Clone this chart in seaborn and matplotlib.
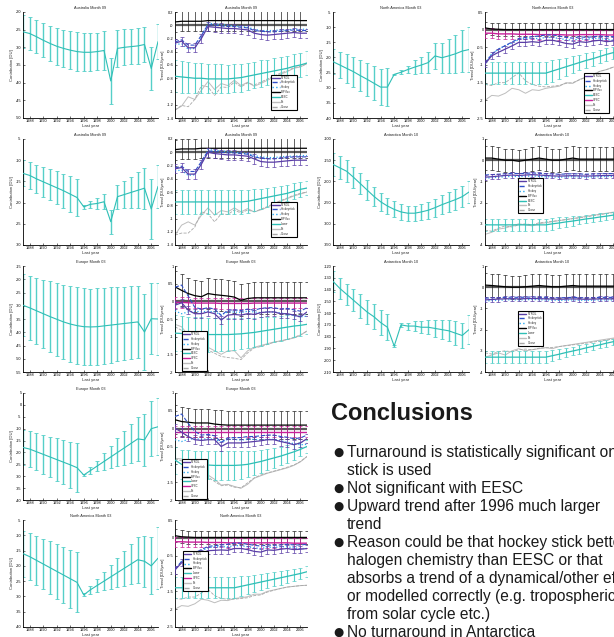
import matplotlib
matplotlib.use("Agg")
import matplotlib.pyplot as plt
from matplotlib.lines import Line2D
from matplotlib.ticker import FuncFormatter
import numpy as np
import pandas as pd
import seaborn as sns

YEARS = list(range(1987, 2008))
XTICKS = list(range(1988, 2007, 2))

# ---------------- contribution panels ----------------
AUS_H_C = [-25.6, -26.1, -27.0, -28.0, -28.9, -29.7, -30.3, -30.8, -31.2, -31.4, -31.4,
           -31.2, -30.9, -39.5, -30.3, -30.0, -29.8, -29.6, -29.2, -36.0, -28.4]
AUS_H_CE = [4.7, 4.6, 4.7, 4.8, 5.0, 5.2, 5.3, 5.4, 5.4, 5.4, 5.4, 5.3, 5.4, 6.4, 5.2,
            5.1, 5.0, 5.0, 5.0, 6.0, 5.0]
AUS_E_C = [-13.1, -13.6, -14.4, -15.1, -15.8, -16.5, -17.2, -18.0, -18.8, -21.0, -20.4,
           -20.2, -19.8, -24.5, -18.6, -18.1, -17.6, -17.1, -16.6, -21.5, -16.2]
AUS_E_CE = [3.1, 3.1, 3.3, 3.6, 3.7, 3.9, 4.0, 4.2, 4.4, 0.4, 0.8, 1.3, 1.8, 2.8, 2.8,
            3.2, 3.7, 4.2, 4.8, 7.0, 5.0]
EUR_H_C = [-29.8, -30.8, -31.9, -33.0, -34.1, -35.1, -36.1, -36.9, -37.5, -37.9, -38.0,
           -37.9, -37.6, -37.3, -37.0, -36.7, -36.4, -36.1, -39.9, -34.9, -35.0]
EUR_H_CE = [11.6, 12.0, 12.5, 12.9, 13.4, 13.8, 14.1, 14.3, 14.5, 14.5, 14.5, 14.5, 14.4,
            14.2, 14.0, 13.9, 13.8, 13.7, 14.2, 13.4, 13.5]
EUR_E_C = [-17.9, -18.6, -19.7, -20.8, -21.9, -23.0, -24.1, -25.2, -26.4, -29.5, -27.6,
           -25.7, -23.8, -21.9, -20.0, -18.1, -16.2, -14.3, -14.7, -10.0, -9.2]
EUR_E_CE = [7.2, 7.5, 7.8, 8.1, 8.5, 8.9, 9.3, 9.8, 10.2, 0.5, 1.4, 2.3, 3.5, 4.6, 5.9,
            7.0, 8.2, 9.4, 10.8, 11.6, 12.0]
NA_E_C = [-16.0, -17.0, -18.2, -19.4, -20.6, -21.8, -23.0, -24.2, -25.4, -29.5, -27.8,
          -26.4, -25.0, -23.6, -22.2, -20.8, -19.4, -18.0, -18.5, -20.0, -17.5]
NA_E_CE = [7.5, 7.7, 8.0, 8.3, 8.6, 8.9, 9.2, 9.5, 9.8, 0.5, 1.3, 2.1, 3.0, 3.9, 4.8,
           5.7, 6.6, 7.5, 8.4, 9.3, 10.2]
NA_H_C = [-21.4, -22.5, -23.6, -24.7, -26.0, -27.2, -28.5, -29.8, -29.8, -25.6, -24.9,
          -24.0, -23.2, -22.5, -21.7, -19.5, -20.1, -19.5, -18.8, -17.9, -17.4]
NA_H_CE = [4.2, 4.4, 4.7, 4.9, 5.2, 5.5, 5.7, 5.9, 6.2, 0.2, 0.7, 1.3, 2.2, 2.8, 3.6,
           4.4, 4.9, 5.6, 6.3, 7.0, 7.5]
ANT_H_C = [-160, -168, -176, -190, -205, -220, -235, -248, -258, -266, -272, -275, -275,
           -272, -268, -262, -255, -249, -243, -236, -225]
ANT_H_CE = [28, 27, 26, 25, 24, 23, 22, 21, 20, 19, 18, 18, 18, 19, 20, 21, 22, 23, 24,
            25, 26]
ANT_E_C = [-133, -139, -144, -149, -154, -159, -163, -168, -172, -188, -170, -171, -171,
           -172, -172, -173, -174, -175, -177, -179, -174]
ANT_E_CE = [9, 9, 9, 9.5, 10, 10, 10.5, 11, 11, 1, 2, 3, 4, 5, 6, 7, 8, 9, 10, 11, 12]

# ---------------- trend panels ----------------
LEG_LABELS = ["NTROL", "Hockeystick", "Hockey", "BP flux", "EESC", "VPSC", "Fit", "Ozone"]

# Australia 09, hockey stick
AUS_H_NTROL = [-0.27, -0.24, -0.34, -0.34, -0.20, -0.02, -0.03, -0.04, -0.05, -0.05, -0.06,
               -0.07, -0.12, -0.14, -0.15, -0.14, -0.13, -0.12, -0.11, -0.12, -0.12]
AUS_H_HSTICK = [-0.25, -0.22, -0.30, -0.30, -0.15, 0.01, 0.0, -0.01, -0.02, -0.02, -0.03,
                -0.04, -0.08, -0.09, -0.10, -0.10, -0.09, -0.08, -0.07, -0.08, -0.08]
AUS_H_HOCKEY = [-0.29, -0.28, -0.36, -0.35, -0.18, 0.03, 0.02, 0.01, 0.0, -0.01, -0.02,
                -0.03, -0.06, -0.08, -0.08, -0.08, -0.07, -0.07, -0.06, -0.06, -0.06]
AUS_H_BP = [0.05, 0.06, 0.06, 0.06, 0.06, 0.07, 0.07, 0.07, 0.07, 0.07, 0.07, 0.07, 0.07,
            0.07, 0.07, 0.07, 0.07, 0.07, 0.07, 0.07, 0.07]
AUS_H_TEAL = [-0.77, -0.78, -0.79, -0.80, -0.80, -0.81, -0.81, -0.81, -0.81, -0.80, -0.79,
              -0.77, -0.75, -0.73, -0.71, -0.69, -0.67, -0.65, -0.62, -0.60, -0.57]
AUS_H_TEAL_E = [0.24, 0.24, 0.23, 0.23, 0.23, 0.22, 0.22, 0.22, 0.21, 0.21, 0.21, 0.2,
                0.2, 0.2, 0.19, 0.19, 0.19, 0.18, 0.18, 0.18, 0.18]
AUS_H_FIT = [-1.28, -1.22, -1.08, -1.12, -0.98, -0.85, -0.97, -0.88, -0.91, -0.83, -0.91,
             -0.86, -0.92, -0.88, -0.83, -0.78, -0.74, -0.70, -0.65, -0.63, -0.58]
AUS_H_OZONE = [-1.28, -1.21, -1.23, -1.12, -0.91, -0.93, -1.06, -0.93, -0.94, -0.86, -0.93,
               -0.87, -0.90, -0.86, -0.81, -0.77, -0.72, -0.69, -0.64, -0.62, -0.58]

# Australia 09, EESC
AUS_E_NTROL = [-0.25, -0.23, -0.33, -0.33, -0.18, 0.0, -0.02, -0.03, -0.04, -0.04, -0.05,
               -0.06, -0.10, -0.14, -0.15, -0.15, -0.14, -0.13, -0.12, -0.12, -0.12]
AUS_E_HSTICK = [-0.24, -0.21, -0.29, -0.29, -0.14, 0.02, 0.01, 0.0, -0.01, -0.01, -0.02,
                -0.03, -0.07, -0.09, -0.10, -0.10, -0.09, -0.08, -0.07, -0.07, -0.07]
AUS_E_HOCKEY = [-0.28, -0.27, -0.35, -0.34, -0.17, 0.04, 0.03, 0.02, 0.01, 0.0, -0.01,
                -0.02, -0.05, -0.07, -0.08, -0.08, -0.07, -0.06, -0.06, -0.05, -0.05]
AUS_E_BP = [0.04, 0.05, 0.05, 0.05, 0.06, 0.06, 0.06, 0.06, 0.06, 0.06, 0.06, 0.06, 0.06,
            0.06, 0.06, 0.06, 0.06, 0.06, 0.06, 0.06, 0.06]
AUS_E_TEAL = [-0.75, -0.75, -0.75, -0.75, -0.75, -0.75, -0.75, -0.75, -0.75, -0.75, -0.75,
              -0.74, -0.72, -0.70, -0.68, -0.66, -0.64, -0.62, -0.59, -0.56, -0.54]
AUS_E_TEAL_E = [0.18, 0.18, 0.18, 0.18, 0.18, 0.18, 0.18, 0.18, 0.18, 0.18, 0.18, 0.17,
                0.16, 0.15, 0.14, 0.13, 0.13, 0.12, 0.12, 0.11, 0.11]
AUS_E_FIT = [-1.25, -1.10, -1.05, -1.10, -0.95, -0.84, -0.95, -0.88, -0.90, -0.84, -0.90,
             -0.85, -0.90, -0.87, -0.83, -0.78, -0.74, -0.70, -0.66, -0.63, -0.60]
AUS_E_OZONE = [-1.25, -1.22, -1.22, -1.13, -0.90, -0.93, -1.05, -0.93, -0.94, -0.87, -0.92,
               -0.87, -0.90, -0.86, -0.82, -0.77, -0.73, -0.69, -0.65, -0.62, -0.60]

# Europe 03, hockey stick
EUR_H_NTROL = [-0.11, -0.04, -0.25, -0.35, -0.35, -0.30, -0.35, -0.53, -0.39, -0.37, -0.39,
               -0.35, -0.37, -0.32, -0.30, -0.30, -0.35, -0.35, -0.39, -0.44, -0.30]
EUR_H_HSTICK = [0.40, 0.46, 0.15, -0.17, -0.22, -0.18, -0.22, -0.40, -0.25, -0.24, -0.26,
                -0.22, -0.25, -0.20, -0.18, -0.18, -0.22, -0.20, -0.24, -0.28, -0.18]
EUR_H_HOCKEY = [-0.27, -0.35, -0.30, -0.28, -0.30, -0.28, -0.30, -0.38, -0.30, -0.30, -0.32,
                -0.28, -0.30, -0.32, -0.30, -0.30, -0.33, -0.36, -0.40, -0.44, -0.42]
EUR_H_BP = [0.41, 0.31, 0.22, 0.16, 0.13, 0.22, 0.19, 0.17, 0.15, 0.12, 0.03, 0.08, 0.10,
            0.10, 0.10, 0.10, 0.10, 0.10, 0.10, 0.10, 0.10]
EUR_H_VPSC = [-0.03, -0.03, -0.04, -0.05, -0.05, -0.05, -0.05, -0.06, -0.06, -0.06, -0.06,
              -0.06, -0.05, -0.05, -0.05, -0.05, -0.05, -0.05, -0.05, -0.05, -0.05]
EUR_H_TEAL = [-0.90, -0.91, -0.92, -0.93, -0.93, -0.94, -0.94, -0.94, -0.94, -0.93, -0.92,
              -0.90, -0.88, -0.85, -0.82, -0.79, -0.76, -0.73, -0.70, -0.68, -0.65]
EUR_H_TEAL_E = [0.50, 0.50, 0.49, 0.49, 0.48, 0.48, 0.47, 0.47, 0.46, 0.45, 0.44, 0.43,
                0.41, 0.40, 0.38, 0.36, 0.35, 0.33, 0.31, 0.30, 0.28]
EUR_H_FIT = [-0.65, -0.72, -0.96, -1.10, -1.15, -1.30, -1.40, -1.50, -1.40, -1.40, -1.60,
             -1.40, -1.30, -1.25, -1.20, -1.15, -1.12, -1.08, -1.04, -0.96, -0.84]
EUR_H_OZONE = [-0.72, -0.82, -1.05, -1.24, -1.33, -1.38, -1.47, -1.56, -1.59, -1.61, -1.65,
               -1.46, -1.32, -1.28, -1.22, -1.16, -1.12, -1.08, -1.02, -0.95, -0.84]

# Europe 03, EESC
EUR_E_NTROL = [0.02, -0.10, -0.22, -0.31, -0.33, -0.31, -0.31, -0.50, -0.40, -0.40, -0.40,
               -0.38, -0.36, -0.34, -0.31, -0.31, -0.36, -0.40, -0.45, -0.40, -0.28]
EUR_E_HSTICK = [0.34, 0.41, 0.15, -0.08, -0.18, -0.16, -0.20, -0.38, -0.26, -0.25, -0.25,
                -0.22, -0.22, -0.20, -0.18, -0.18, -0.22, -0.24, -0.28, -0.26, -0.18]
EUR_E_HOCKEY = [-0.31, -0.36, -0.30, -0.28, -0.30, -0.28, -0.30, -0.38, -0.30, -0.30, -0.32,
                -0.30, -0.30, -0.32, -0.30, -0.30, -0.34, -0.38, -0.42, -0.45, -0.44]
EUR_E_BP = [0.25, 0.20, 0.18, 0.16, 0.16, 0.16, 0.13, 0.11, 0.10, 0.10, 0.10, 0.10, 0.10,
            0.10, 0.10, 0.10, 0.10, 0.10, 0.10, 0.10, 0.10]
EUR_E_VPSC = [-0.08, -0.08, -0.08, -0.08, -0.08, -0.08, -0.08, -0.08, -0.08, -0.08, -0.08,
              -0.08, -0.08, -0.08, -0.08, -0.08, -0.08, -0.08, -0.08, -0.08, -0.08]
EUR_E_TEAL = [-0.88, -1.00, -1.01, -1.02, -1.02, -1.02, -1.03, -1.03, -1.03, -1.03, -1.02,
              -1.00, -0.96, -0.92, -0.87, -0.82, -0.77, -0.71, -0.65, -0.58, -0.50]
EUR_E_TEAL_E = [0.38, 0.40, 0.40, 0.40, 0.40, 0.40, 0.40, 0.40, 0.40, 0.40, 0.38, 0.36,
                0.34, 0.32, 0.30, 0.28, 0.26, 0.24, 0.22, 0.20, 0.18]
EUR_E_FIT = [-0.83, -0.85, -0.98, -1.10, -1.20, -1.30, -1.42, -1.58, -1.56, -1.62, -1.67,
             -1.56, -1.39, -1.32, -1.25, -1.20, -1.15, -1.10, -1.03, -0.93, -0.78]
EUR_E_OZONE = [-0.85, -0.90, -1.02, -1.15, -1.25, -1.36, -1.48, -1.60, -1.58, -1.64, -1.66,
               -1.52, -1.38, -1.30, -1.24, -1.19, -1.14, -1.08, -1.02, -0.92, -0.78]

# North America 03, hockey stick
NA_H_NTROL = [-0.97, -0.74, -0.64, -0.55, -0.46, -0.36, -0.36, -0.34, -0.36, -0.30, -0.30,
              -0.34, -0.39, -0.41, -0.34, -0.36, -0.32, -0.30, -0.34, -0.32, -0.30]
NA_H_HSTICK = [-0.95, -0.70, -0.55, -0.45, -0.35, -0.25, -0.22, -0.20, -0.18, -0.15, -0.15,
               -0.18, -0.22, -0.24, -0.20, -0.22, -0.20, -0.18, -0.20, -0.20, -0.18]
NA_H_HOCKEY = [-0.95, -0.68, -0.55, -0.45, -0.38, -0.28, -0.25, -0.25, -0.25, -0.22, -0.22,
               -0.25, -0.28, -0.30, -0.26, -0.27, -0.25, -0.25, -0.28, -0.30, -0.30]
NA_H_BP = [0.05, 0.02, 0.01, 0.0, 0.0, 0.0, 0.0, 0.0, 0.0, 0.0, 0.0, 0.0, 0.0, 0.0, 0.0,
           0.0, 0.0, 0.0, 0.0, 0.0, 0.0]
NA_H_VPSC = [-0.10, -0.10, -0.12, -0.12, -0.12, -0.13, -0.13, -0.13, -0.14, -0.14, -0.14,
             -0.14, -0.15, -0.15, -0.14, -0.14, -0.14, -0.14, -0.15, -0.15, -0.15]
NA_H_TEAL = [-1.23, -1.23, -1.23, -1.23, -1.23, -1.23, -1.23, -1.23, -1.23, -1.23, -1.17,
             -1.11, -1.05, -0.99, -0.93, -0.87, -0.82, -0.76, -0.70, -0.65, -0.60]
NA_H_TEAL_E = [0.32, 0.32, 0.32, 0.32, 0.32, 0.32, 0.32, 0.32, 0.32, 0.32, 0.30, 0.28,
               0.26, 0.24, 0.22, 0.21, 0.20, 0.19, 0.18, 0.17, 0.17]
NA_H_FIT = [-2.00, -1.86, -1.88, -1.80, -1.66, -1.70, -1.80, -1.70, -1.72, -1.66, -1.63,
            -1.60, -1.50, -1.52, -1.41, -1.34, -1.27, -1.18, -1.13, -1.06, -1.06]
NA_H_OZONE = [-1.55, -1.58, -1.50, -1.50, -1.36, -1.22, -1.45, -1.55, -1.60, -1.62, -1.60,
              -1.58, -1.52, -1.50, -1.42, -1.34, -1.27, -1.18, -1.13, -1.06, -1.06]

# North America 03, EESC
NA_E_NTROL = [-0.90, -0.70, -0.60, -0.52, -0.44, -0.36, -0.35, -0.34, -0.35, -0.30, -0.30,
              -0.33, -0.38, -0.40, -0.34, -0.35, -0.32, -0.30, -0.33, -0.32, -0.30]
NA_E_HSTICK = [-0.88, -0.66, -0.52, -0.42, -0.33, -0.24, -0.22, -0.20, -0.18, -0.15, -0.15,
               -0.18, -0.21, -0.23, -0.20, -0.21, -0.20, -0.18, -0.20, -0.20, -0.18]
NA_E_HOCKEY = [-0.90, -0.66, -0.53, -0.44, -0.37, -0.28, -0.25, -0.25, -0.25, -0.22, -0.22,
               -0.25, -0.28, -0.30, -0.26, -0.27, -0.25, -0.25, -0.28, -0.30, -0.30]
NA_E_BP = [0.06, 0.03, 0.02, 0.01, 0.01, 0.01, 0.01, 0.01, 0.01, 0.01, 0.01, 0.01, 0.01,
           0.01, 0.01, 0.01, 0.01, 0.01, 0.01, 0.01, 0.01]
NA_E_VPSC = [-0.11, -0.11, -0.12, -0.12, -0.12, -0.13, -0.13, -0.13, -0.14, -0.14, -0.14,
             -0.14, -0.14, -0.14, -0.14, -0.14, -0.14, -0.14, -0.15, -0.15, -0.15]
NA_E_TEAL = [-1.40, -1.40, -1.40, -1.40, -1.40, -1.40, -1.40, -1.40, -1.40, -1.40, -1.36,
             -1.32, -1.28, -1.24, -1.20, -1.16, -1.12, -1.08, -1.04, -1.00, -0.95]
NA_E_TEAL_E = [0.30, 0.30, 0.30, 0.30, 0.30, 0.30, 0.30, 0.30, 0.30, 0.30, 0.28, 0.26,
               0.24, 0.22, 0.21, 0.20, 0.19, 0.18, 0.17, 0.16, 0.16]
NA_E_FIT = [-2.00, -1.90, -1.92, -1.85, -1.72, -1.75, -1.82, -1.75, -1.76, -1.70, -1.68,
            -1.65, -1.58, -1.58, -1.50, -1.46, -1.42, -1.38, -1.36, -1.34, -1.33]
NA_E_OZONE = [-1.70, -1.72, -1.66, -1.66, -1.55, -1.45, -1.62, -1.70, -1.72, -1.72, -1.70,
              -1.68, -1.62, -1.60, -1.52, -1.47, -1.42, -1.38, -1.36, -1.34, -1.33]

# Antarctica 10, hockey stick
ANT_H_NTROL = [-0.80, -0.78, -0.75, -0.72, -0.70, -0.72, -0.70, -0.68, -0.70, -0.72, -0.74,
               -0.75, -0.74, -0.73, -0.74, -0.75, -0.74, -0.73, -0.72, -0.72, -0.70]
ANT_H_HSTICK = [-0.70, -0.68, -0.66, -0.64, -0.62, -0.63, -0.62, -0.60, -0.62, -0.64, -0.65,
                -0.66, -0.65, -0.64, -0.65, -0.66, -0.65, -0.64, -0.63, -0.63, -0.62]
ANT_H_HOCKEY = [-0.85, -0.83, -0.80, -0.78, -0.76, -0.77, -0.76, -0.74, -0.76, -0.78, -0.79,
                -0.80, -0.79, -0.78, -0.79, -0.80, -0.79, -0.78, -0.77, -0.77, -0.76]
ANT_H_BP = [0.10, 0.10, 0.05, 0.0, 0.0, -0.05, 0.0, 0.05, 0.10, 0.05, 0.0, 0.0, 0.05, 0.10,
            0.05, 0.05, 0.05, 0.05, 0.05, 0.05, 0.05]
ANT_H_TEAL = [-3.05, -3.05, -3.05, -3.05, -3.05, -3.05, -3.05, -3.05, -3.05, -3.05, -3.00,
              -2.96, -2.91, -2.87, -2.82, -2.77, -2.73, -2.68, -2.64, -2.59, -2.55]
ANT_H_TEAL_E = [0.30, 0.30, 0.30, 0.30, 0.30, 0.30, 0.30, 0.30, 0.30, 0.30, 0.28, 0.26,
                0.24, 0.22, 0.21, 0.20, 0.19, 0.18, 0.17, 0.16, 0.15]
ANT_H_FIT = [-3.50, -3.40, -3.25, -3.20, -3.10, -3.00, -3.05, -3.10, -3.00, -2.95, -2.90,
             -2.85, -2.80, -2.75, -2.70, -2.65, -2.60, -2.55, -2.50, -2.45, -2.40]
ANT_H_OZONE = [-3.30, -3.35, -3.20, -3.10, -3.15, -3.05, -3.00, -3.05, -2.95, -2.92, -2.88,
               -2.84, -2.80, -2.76, -2.72, -2.67, -2.62, -2.57, -2.52, -2.47, -2.42]

# Antarctica 10, EESC
ANT_E_NTROL = [-0.60, -0.58, -0.56, -0.55, -0.54, -0.55, -0.54, -0.53, -0.54, -0.55, -0.56,
               -0.57, -0.56, -0.55, -0.56, -0.57, -0.56, -0.55, -0.55, -0.55, -0.54]
ANT_E_HSTICK = [-0.52, -0.50, -0.49, -0.48, -0.47, -0.48, -0.47, -0.46, -0.47, -0.48, -0.49,
                -0.50, -0.49, -0.48, -0.49, -0.50, -0.49, -0.48, -0.48, -0.48, -0.47]
ANT_E_HOCKEY = [-0.65, -0.63, -0.61, -0.60, -0.59, -0.60, -0.59, -0.58, -0.59, -0.60, -0.61,
                -0.62, -0.61, -0.60, -0.61, -0.62, -0.61, -0.60, -0.60, -0.60, -0.59]
ANT_E_BP = [0.10, 0.08, 0.05, 0.02, 0.0, 0.0, 0.02, 0.05, 0.08, 0.05, 0.02, 0.02, 0.05,
            0.08, 0.05, 0.05, 0.05, 0.05, 0.05, 0.05, 0.05]
ANT_E_TEAL = [-3.30, -3.30, -3.30, -3.30, -3.30, -3.30, -3.30, -3.30, -3.30, -3.30, -3.23,
              -3.16, -3.08, -3.01, -2.94, -2.86, -2.79, -2.72, -2.64, -2.57, -2.50]
ANT_E_TEAL_E = [0.28, 0.28, 0.28, 0.28, 0.28, 0.28, 0.28, 0.28, 0.28, 0.28, 0.26, 0.24,
                0.22, 0.21, 0.20, 0.19, 0.18, 0.17, 0.16, 0.15, 0.15]
ANT_E_FIT = [-3.30, -3.20, -3.10, -3.20, -3.00, -2.90, -3.00, -2.95, -2.90, -2.85, -2.90,
             -2.80, -2.75, -2.70, -2.65, -2.60, -2.55, -2.50, -2.45, -2.40, -2.35]
ANT_E_OZONE = [-3.10, -3.15, -3.05, -3.00, -3.05, -2.95, -2.92, -2.95, -2.88, -2.86, -2.84,
               -2.80, -2.76, -2.72, -2.68, -2.64, -2.59, -2.54, -2.49, -2.44, -2.40]

CONCLUSION_LINES = [
    ("\u25cf", "Turnaround is statistically significant only"),
    ("", "stick is used"),
    ("\u25cf", "Not significant with EESC"),
    ("\u25cf", "Upward trend after 1996 much larger"),
    ("", "trend"),
    ("\u25cf", "Reason could be that hockey stick better"),
    ("", "halogen chemistry than EESC or that"),
    ("", "absorbs a trend of a dynamical/other effect"),
    ("", "or modelled correctly (e.g. tropospheric"),
    ("", "from solar cycle etc.)"),
    ("\u25cf", "No turnaround in Antarctica"),
]

# ---------------- styling ----------------
sns.set_theme(style="white")
plt.rcParams["font.family"] = ["Liberation Sans", "DejaVu Sans"]
plt.rcParams["axes.unicode_minus"] = False

TEAL = "#2fbfb6"
TEAL_E = "#55cfc8"
PURPLE = "#5a3ea6"
BLUE = "#2f4fc8"
CYAN = "#2aa8f0"
MAGENTA = "#c8209a"
GRAY = "#bdbdbd"
GRAY_D = "#a8a8a8"

W, H = 614, 637
fig = plt.figure(figsize=(W / 100, H / 100), dpi=100)
fig.patch.set_facecolor("white")

ROWS = [(12, 118), (139, 245), (266, 372), (393, 500), (520, 627)]
LC, LT, RC, RT = (23, 158), (175, 307), (333, 469), (485, 620)
FS = 2.8
fmt = FuncFormatter(lambda v, p: "%g" % round(v, 4))


def add_ax(xr, yr):
    x0, x1 = xr
    y0, y1 = yr
    return fig.add_axes([x0 / W, 1 - y1 / H, (x1 - x0) / W, (y1 - y0) / H])


def style(ax, ylim, step, ylabel, title):
    ax.set_xlim(1987, 2007)
    ax.set_ylim(*ylim)
    ax.set_xticks(XTICKS)
    ax.set_yticks(np.arange(ylim[0], ylim[1] + step / 2, step))
    ax.yaxis.set_major_formatter(fmt)
    ax.tick_params(labelsize=FS, length=1.5, width=0.4, pad=1, direction="in",
                   colors="black", left=True, bottom=True)
    for s in ("top", "right"):
        ax.spines[s].set_visible(False)
    for s in ("left", "bottom"):
        ax.spines[s].set_color("black")
        ax.spines[s].set_linewidth(0.6)
    ax.set_xlabel("Last year", fontsize=3.0, labelpad=0.5)
    ax.set_ylabel(ylabel, fontsize=3.0, labelpad=1.5)
    ax.set_title(title, fontsize=FS, pad=2)
    ax.set_facecolor("white")
    ax.grid(False)


def contrib(xr, yr, vals, errs, ylim, step, title):
    ax = add_ax(xr, yr)
    df = pd.DataFrame({"year": YEARS, "val": vals})
    ax.errorbar(YEARS, vals, yerr=errs, fmt="none", ecolor=TEAL_E, elinewidth=1.0,
                capsize=1.6, capthick=0.6, zorder=2)
    sns.lineplot(data=df, x="year", y="val", ax=ax, color=TEAL, lw=0.8, zorder=3)
    style(ax, ylim, step, "Contribution [DU]", title)
    return ax


def line(ax, vals, color, ls="-", lw=0.8, z=3):
    sns.lineplot(x=YEARS, y=vals, ax=ax, color=color, linestyle=ls, lw=lw, zorder=z)


def bars(ax, vals, errs, color, z=2, lw=0.6):
    ax.errorbar(YEARS, vals, yerr=errs, fmt="none", ecolor=color, elinewidth=lw,
                capsize=1.6, capthick=0.5, zorder=z)


def trend(xr, yr, title, ylim, step, ntrol, hstick, hockey, bp, bp_err, teal, teal_err,
          teal_label, fit, ozone, vpsc=None, vpsc_err=0.14, ntrol_err=0.07, leg_xy=(0.7, 0.1)):
    ax = add_ax(xr, yr)
    line(ax, fit, GRAY, "-", 0.7, 1)
    line(ax, ozone, GRAY_D, "--", 0.6, 1)
    bars(ax, teal, teal_err, TEAL_E, 2, 0.8)
    line(ax, teal, TEAL, "-", 0.9, 3)
    ax.axhline(0, color="#5a5a5a", lw=1.6, zorder=2)
    bars(ax, bp, bp_err, "#222222", 3, 0.5)
    line(ax, bp, "black", "-", 0.9, 4)
    if vpsc is not None:
        bars(ax, vpsc, vpsc_err, MAGENTA, 3, 0.5)
        line(ax, vpsc, MAGENTA, "-", 1.0, 4)
    line(ax, hockey, CYAN, ":", 0.9, 5)
    line(ax, hstick, BLUE, "--", 0.8, 5)
    bars(ax, ntrol, ntrol_err, PURPLE, 5, 0.5)
    line(ax, ntrol, PURPLE, "-", 0.9, 6)
    style(ax, ylim, step, "Trend [DU/year]", title)

    specs = [(PURPLE, "-"), (BLUE, "--"), (CYAN, ":"), ("black", "-"), (TEAL, "-")]
    labels = LEG_LABELS[:4] + [teal_label]
    if vpsc is not None:
        specs.append((MAGENTA, "-"))
        labels.append(LEG_LABELS[5])
    specs += [(GRAY, "-"), (GRAY_D, "--")]
    labels += LEG_LABELS[6:]
    handles = [Line2D([], [], color=c, ls=s, lw=1.0) for c, s in specs]
    leg = ax.legend(handles, labels, loc="lower left", bbox_to_anchor=leg_xy,
                    fontsize=2.0, frameon=True, fancybox=False, framealpha=1,
                    edgecolor="black", borderpad=0.35, labelspacing=0.3,
                    handlelength=2.6, handletextpad=0.5, borderaxespad=0)
    leg.get_frame().set_linewidth(0.8)
    leg.set_zorder(10)
    return ax


# ---------------- left column ----------------
contrib(LC, ROWS[0], AUS_H_C, AUS_H_CE, (-50, -20), 5, "Australia Month 09")
trend(LT, ROWS[0], "Australia Month 09", (-1.4, 0.2), 0.2, AUS_H_NTROL, AUS_H_HSTICK,
      AUS_H_HOCKEY, AUS_H_BP, 0.15, AUS_H_TEAL, AUS_H_TEAL_E, "EESC", AUS_H_FIT,
      AUS_H_OZONE, leg_xy=(0.73, 0.08))

contrib(LC, ROWS[1], AUS_E_C, AUS_E_CE, (-30, -5), 5, "Australia Month 09")
trend(LT, ROWS[1], "Australia Month 09", (-1.4, 0.2), 0.2, AUS_E_NTROL, AUS_E_HSTICK,
      AUS_E_HOCKEY, AUS_E_BP, 0.15, AUS_E_TEAL, AUS_E_TEAL_E, "Linear", AUS_E_FIT,
      AUS_E_OZONE, leg_xy=(0.73, 0.08))

contrib(LC, ROWS[2], EUR_H_C, EUR_H_CE, (-55, -15), 5, "Europe Month 03")
trend(LT, ROWS[2], "Europe Month 03", (-2, 1), 0.5, EUR_H_NTROL, EUR_H_HSTICK,
      EUR_H_HOCKEY, EUR_H_BP, 0.45, EUR_H_TEAL, EUR_H_TEAL_E, "EESC", EUR_H_FIT,
      EUR_H_OZONE, vpsc=EUR_H_VPSC, vpsc_err=0.15, ntrol_err=0.12, leg_xy=(0.05, 0.01))

contrib(LC, ROWS[3], EUR_E_C, EUR_E_CE, (-40, 5), 5, "Europe Month 03")
trend(LT, ROWS[3], "Europe Month 03", (-2, 1), 0.5, EUR_E_NTROL, EUR_E_HSTICK,
      EUR_E_HOCKEY, EUR_E_BP, 0.40, EUR_E_TEAL, EUR_E_TEAL_E, "Linear", EUR_E_FIT,
      EUR_E_OZONE, vpsc=EUR_E_VPSC, vpsc_err=0.15, ntrol_err=0.12, leg_xy=(0.05, 0.01))

contrib(LC, ROWS[4], NA_E_C, NA_E_CE, (-40, -5), 5, "North America Month 03")
trend(LT, ROWS[4], "North America Month 03", (-2.5, 0.5), 0.5, NA_E_NTROL, NA_E_HSTICK,
      NA_E_HOCKEY, NA_E_BP, 0.18, NA_E_TEAL, NA_E_TEAL_E, "Linear", NA_E_FIT,
      NA_E_OZONE, vpsc=NA_E_VPSC, ntrol_err=0.1, leg_xy=(0.06, 0.34))

# ---------------- right column ----------------
contrib(RC, ROWS[0], NA_H_C, NA_H_CE, (-40, -5), 5, "North America Month 03")
trend(RT, ROWS[0], "North America Month 03", (-2.5, 0.5), 0.5, NA_H_NTROL, NA_H_HSTICK,
      NA_H_HOCKEY, NA_H_BP, 0.18, NA_H_TEAL, NA_H_TEAL_E, "EESC", NA_H_FIT,
      NA_H_OZONE, vpsc=NA_H_VPSC, ntrol_err=0.1, leg_xy=(0.73, 0.05))

contrib(RC, ROWS[1], ANT_H_C, ANT_H_CE, (-350, -100), 50, "Antarctica Month 10")
trend(RT, ROWS[1], "Antarctica Month 10", (-4, 1), 1, ANT_H_NTROL, ANT_H_HSTICK,
      ANT_H_HOCKEY, ANT_H_BP, 0.55, ANT_H_TEAL, ANT_H_TEAL_E, "EESC", ANT_H_FIT,
      ANT_H_OZONE, ntrol_err=0.12, leg_xy=(0.245, 0.3))

contrib(RC, ROWS[2], ANT_E_C, ANT_E_CE, (-210, -120), 10, "Antarctica Month 10")
trend(RT, ROWS[2], "Antarctica Month 10", (-4, 1), 1, ANT_E_NTROL, ANT_E_HSTICK,
      ANT_E_HOCKEY, ANT_E_BP, 0.55, ANT_E_TEAL, ANT_E_TEAL_E, "Linear", ANT_E_FIT,
      ANT_E_OZONE, ntrol_err=0.12, leg_xy=(0.245, 0.25))

# ---------------- conclusions ----------------
fig.text(331 / W, 1 - 420 / H, "Conclusions", fontsize=17, fontweight="bold",
         color="#1a1a1a", va="baseline", ha="left")
y_base = 457.0
for bullet, txt in CONCLUSION_LINES:
    yy = 1 - y_base / H
    if bullet:
        fig.text(333.5 / W, yy + 0.8 / H, bullet, fontsize=8.5, color="#1a1a1a",
                 va="baseline", ha="left", family=["DejaVu Sans"])
    fig.text(347 / W, yy, txt, fontsize=11.2, color="#1a1a1a", va="baseline", ha="left")
    y_base += 17.95

fig.savefig("out.png", dpi=100, facecolor="white")
